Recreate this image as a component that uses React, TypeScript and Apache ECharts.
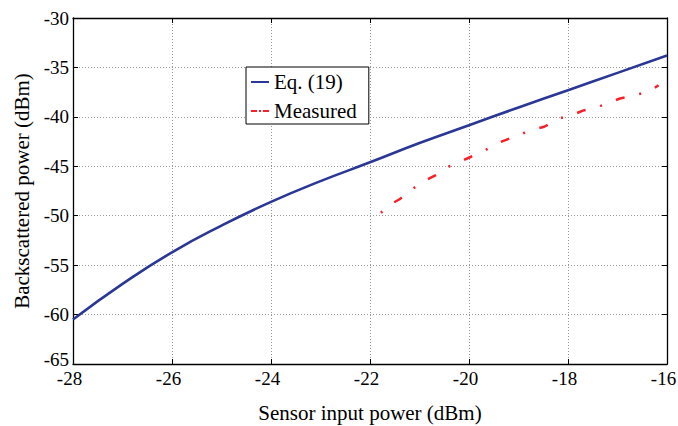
import React, { useEffect, useRef } from "react";
import * as echarts from "echarts";

const xTickMin = -28;
const xTickMax = -16;
const yTickMin = -65;
const yTickMax = -30;

const eqX = [-28, -27, -26, -25, -24, -23, -22, -21, -20, -19, -18, -17, -16];
const eqY = [-60.5, -56.9, -53.7, -51.0, -48.6, -46.5, -44.6, -42.65, -40.85, -39.05, -37.3, -35.55, -33.8];

const measuredX = [-21.78, -21.56, -21.41, -21.13, -20.87, -20.67, -20.42, -20.13, -19.97, -19.68, -19.42, -19.25, -18.95, -18.68, -18.48, -18.2, -17.89, -17.7, -17.4, -17.11, -16.95, -16.63, -16.33, -16.17];
const measuredY = [-49.7, -48.77, -48.36, -47.25, -46.4, -45.9, -45.06, -44.43, -44.06, -43.4, -42.66, -42.33, -41.73, -41.27, -41.0, -40.2, -39.77, -39.37, -39.0, -38.44, -38.14, -37.8, -37.35, -36.8];

const seriesNames = ["Eq. (19)", "Measured"];
const xName = "Sensor input power (dBm)";
const yName = "Backscattered power (dBm)";

const FONT = "'Liberation Serif', 'Times New Roman', serif";

export default function App() {
  const ref = useRef<HTMLDivElement>(null);
  useEffect(() => {
    if (!ref.current) return;
    document.body.style.margin = "0";
    document.body.style.overflow = "hidden";
    const chart = echarts.init(ref.current, null, { renderer: "svg", width: 678, height: 426 });
    const tickCommon = {
      show: true,
      inside: true,
      length: 5,
      lineStyle: { color: "#000", width: 1 },
    };
    const axisLineCommon = { show: true, lineStyle: { color: "#000", width: 1.3 } };
    chart.setOption({
      animation: false,
      backgroundColor: "#fff",
      textStyle: { fontFamily: FONT },
      grid: {
        left: 73,
        right: 11,
        top: 18,
        bottom: 62,
        containLabel: false,
        outerBoundsMode: "none",
      },
      legend: {
        left: 246,
        top: 67,
        orient: "vertical",
        backgroundColor: "#fff",
        borderColor: "#000",
        borderWidth: 1,
        borderRadius: 0,
        padding: [4, 12, 2, 4],
        itemWidth: 18,
        itemHeight: 14,
        itemGap: 7,
        itemStyle: { opacity: 0, borderWidth: 0 },
        textStyle: { fontFamily: FONT, fontSize: 21, color: "#000", lineHeight: 22 },
        data: [
          { name: seriesNames[0] },
          { name: seriesNames[1], lineStyle: { type: [6, 2, 2, 2] } },
        ],
      },
      xAxis: [
        {
          type: "value",
          min: xTickMin,
          max: xTickMax,
          interval: 2,
          position: "bottom",
          name: xName,
          nameLocation: "middle",
          nameGap: 38,
          nameTextStyle: { fontFamily: FONT, fontSize: 21, color: "#000" },
          axisLine: axisLineCommon,
          axisTick: tickCommon,
          axisLabel: {
            fontFamily: FONT,
            fontSize: 19,
            color: "#000",
            margin: 7,
            lineHeight: 14,
            padding: [0, 7, 0, 0],
          },
          splitLine: { show: true, lineStyle: { type: [1, 2], color: "#999", width: 1 } },
        },
        {
          type: "value",
          min: xTickMin,
          max: xTickMax,
          interval: 2,
          position: "top",
          axisLine: axisLineCommon,
          axisTick: tickCommon,
          axisLabel: { show: false },
          splitLine: { show: false },
        },
      ],
      yAxis: [
        {
          type: "value",
          min: yTickMin,
          max: yTickMax,
          interval: 5,
          position: "left",
          name: yName,
          nameLocation: "middle",
          nameGap: 41,
          nameTextStyle: { fontFamily: FONT, fontSize: 21, color: "#000" },
          axisLine: axisLineCommon,
          axisTick: tickCommon,
          axisLabel: {
            fontFamily: FONT,
            fontSize: 19,
            color: "#000",
            margin: 4,
            lineHeight: 12,
            formatter: (v: number) => (v === yTickMin ? `{low|${v}}` : `${v}`),
            rich: {
              low: {
                fontFamily: FONT,
                fontSize: 19,
                color: "#000",
                lineHeight: 12,
                padding: [0, 0, 9, 0],
              },
            },
          },
          splitLine: { show: true, lineStyle: { type: [1, 2], color: "#999", width: 1 } },
        },
        {
          type: "value",
          min: yTickMin,
          max: yTickMax,
          interval: 5,
          position: "right",
          axisLine: axisLineCommon,
          axisTick: tickCommon,
          axisLabel: { show: false },
          splitLine: { show: false },
        },
      ],
      series: [
        {
          name: seriesNames[0],
          type: "line",
          xAxisIndex: 0,
          yAxisIndex: 0,
          data: eqX.map((x, i) => [x, eqY[i]]),
          smooth: true,
          symbol: "none",
          lineStyle: { color: "#2b3794", width: 2.6 },
          itemStyle: { color: "#2b3794" },
        },
        {
          name: seriesNames[1],
          type: "line",
          xAxisIndex: 0,
          yAxisIndex: 0,
          data: measuredX.map((x, i) => [x, measuredY[i]]),
          symbol: "none",
          lineStyle: { color: "#f5202a", width: 2.5, type: [2, 15, 9, 15] },
          itemStyle: { color: "#f5202a" },
        },
      ],
    });
    return () => chart.dispose();
  }, []);
  return (
    <div
      ref={ref}
      style={{ position: "fixed", left: 0, top: 0, width: 678, height: 426, background: "#fff" }}
    />
  );
}
